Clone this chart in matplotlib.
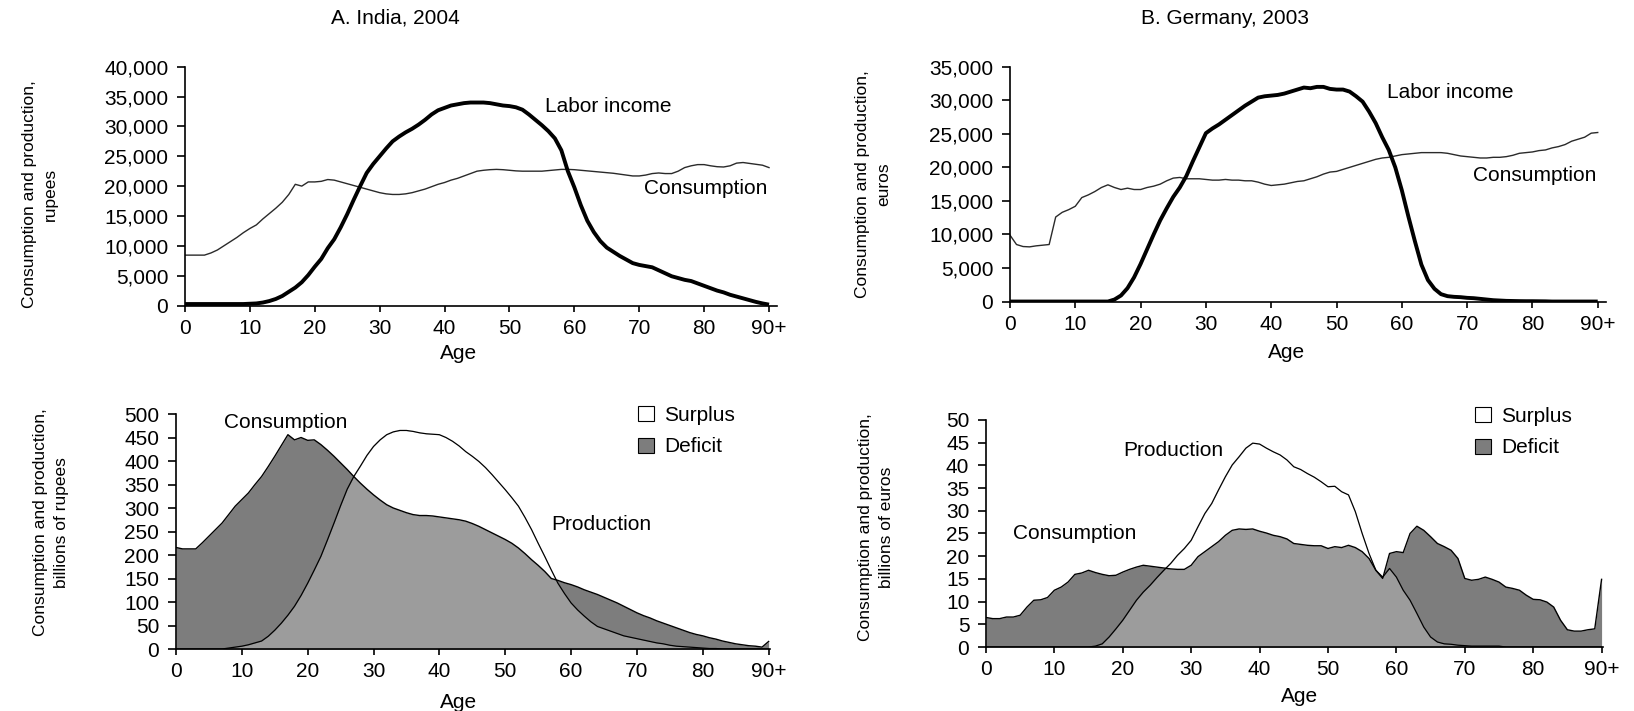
"""
Perfiles de ciclo de vida: consumo e ingreso laboral, India 2004 y Alemania 2003
"""

import numpy as np
import matplotlib
matplotlib.use("Agg")
import matplotlib.pyplot as plt
from matplotlib.patches import Patch
from matplotlib.ticker import FuncFormatter

plt.rcParams['font.family'] = ['Liberation Sans', 'DejaVu Sans']

# datos
edades = list(range(91))
etiquetas_x = ['0', '10', '20', '30', '40', '50', '60', '70', '80', '90+']

# A. India, per capita (rupias)
consumo_india = [
    8440, 8440, 8440, 8440, 8800, 9300, 10000, 10700, 11400, 12200,
    12900, 13500, 14500, 15400, 16300, 17300, 18600, 20300, 20000, 20700,
    20700, 20800, 21100, 21000, 20700, 20400, 20100, 19800, 19500, 19200,
    18900, 18700, 18600, 18600, 18700, 18900, 19200, 19500, 19900, 20300,
    20600, 21000, 21300, 21700, 22100, 22500, 22650, 22750, 22800, 22750,
    22650, 22550, 22500, 22500, 22500, 22500, 22600, 22700, 22800, 22800,
    22750, 22650, 22550, 22450, 22350, 22250, 22150, 22000, 21850, 21700,
    21700, 21850, 22100, 22200, 22100, 22100, 22500, 23100, 23400, 23600,
    23600, 23400, 23250, 23200, 23400, 23850, 23950, 23800, 23650, 23500,
    23100]
ingreso_india = [
    250, 250, 250, 250, 250, 250, 250, 250, 250, 250,
    300, 350, 500, 750, 1100, 1600, 2300, 3000, 3900, 5100,
    6500, 7800, 9600, 11100, 13100, 15300, 17700, 20000, 22200, 23700,
    25000, 26300, 27500, 28300, 29000, 29600, 30300, 31100, 32000, 32700,
    33100, 33500, 33700, 33900, 34000, 34000, 34000, 33900, 33700, 33500,
    33400, 33200, 32800, 32000, 31100, 30200, 29200, 28000, 26000, 22500,
    19800, 16800, 14200, 12300, 10800, 9700, 9000, 8300, 7700, 7100,
    6800, 6600, 6400, 5900, 5400, 4900, 4600, 4300, 4100, 3700,
    3300, 2900, 2500, 2200, 1800, 1500, 1200, 900, 600, 350,
    150]

# B. Alemania, per capita (euros)
consumo_alemania = [
    9900, 8500, 8200, 8150, 8300, 8400, 8500, 12600, 13300, 13700,
    14200, 15500, 15900, 16400, 17000, 17400, 17000, 16700, 16900, 16700,
    16700, 17000, 17200, 17500, 18000, 18400, 18500, 18300, 18300, 18300,
    18200, 18100, 18100, 18200, 18100, 18100, 18000, 18000, 17800, 17500,
    17300, 17400, 17500, 17700, 17900, 18000, 18300, 18600, 19000, 19300,
    19400, 19700, 20000, 20300, 20600, 20900, 21200, 21400, 21500, 21700,
    21900, 22000, 22100, 22200, 22200, 22200, 22200, 22100, 21900, 21700,
    21600, 21500, 21400, 21400, 21500, 21500, 21600, 21800, 22100, 22200,
    22300, 22500, 22600, 22900, 23100, 23400, 23900, 24200, 24500, 25100,
    25200]
ingreso_alemania = [
    0, 0, 0, 0, 0, 0, 0, 0, 0, 0,
    0, 0, 0, 0, 0, 0, 300, 900, 2000, 3600,
    5600, 7800, 10000, 12100, 13900, 15600, 17000, 18700, 20900, 23000,
    25100, 25800, 26400, 27100, 27800, 28500, 29200, 29800, 30400, 30600,
    30700, 30800, 31000, 31300, 31600, 31900, 31800, 32000, 32000, 31700,
    31600, 31600, 31300, 30600, 29800, 28300, 26600, 24500, 22600, 20000,
    16600, 12700, 9000, 5500, 3200, 1900, 1100, 800, 700, 650,
    550, 500, 400, 300, 200, 150, 100, 80, 60, 50,
    50, 40, 30, 0, 0, 0, 0, 0, 0, 0,
    0]

# agregados (miles de millones)
consumo_total_india = [
    216, 213, 213, 213, 226, 240, 254, 268, 286, 304,
    318, 332, 350, 367, 388, 410, 433, 456, 445, 450,
    444, 445, 435, 423, 410, 396, 382, 367, 353, 340,
    328, 317, 307, 300, 295, 290, 286, 284, 284, 283,
    281, 279, 277, 275, 272, 267, 261, 254, 247, 240,
    233, 225, 215, 203, 190, 178, 165, 150, 146, 141,
    137, 132, 126, 121, 116, 110, 104, 98, 91, 84,
    77, 71, 66, 60, 55, 50, 45, 40, 35, 31,
    28, 24, 21, 17, 14, 11, 9, 7, 6, 4,
    16]
produccion_total_india = [
    0, 0, 0, 0, 0, 0, 0, 0, 2, 4,
    6, 9, 13, 17, 27, 40, 55, 72, 91, 114,
    140, 168, 197, 232, 268, 305, 340, 367, 389, 412,
    431, 445, 456, 462, 465, 465, 463, 460, 458, 457,
    456, 450, 442, 432, 420, 410, 399, 386, 371, 355,
    339, 322, 304, 280, 254, 225, 197, 168, 140, 118,
    98, 83, 70, 58, 48, 43, 38, 33, 28, 25,
    22, 19, 16, 13, 11, 8, 6, 5, 4, 3,
    2, 1, 1, 0, 0, 0, 0, 0, 0, 0,
    0]
consumo_total_alemania = [
    6.5, 6.25, 6.25, 6.6, 6.6, 7.0, 8.8, 10.3, 10.4, 10.9,
    12.5, 13.2, 14.3, 16.0, 16.3, 16.9, 16.4, 16.0, 15.7, 15.8,
    16.5, 17.1, 17.6, 18.0, 17.8, 17.6, 17.4, 17.2, 17.1, 17.1,
    18.0, 19.9, 21.0, 22.1, 23.2, 24.6, 25.7, 26.0, 25.9, 26.0,
    25.5, 25.1, 24.6, 24.3, 23.8, 22.8, 22.6, 22.4, 22.3, 22.3,
    21.7, 22.1, 21.9, 22.4, 21.9, 21.0, 19.5, 16.9, 15.1, 20.6,
    21.0, 20.8, 25.0, 26.6, 25.7, 24.3, 22.8, 22.1, 21.3, 19.5,
    15.1, 14.7, 14.9, 15.4, 14.9, 14.3, 13.2, 12.9, 12.5, 11.4,
    10.5, 10.4, 9.9, 8.8, 5.9, 3.8, 3.5, 3.5, 3.8, 4.0,
    14.9]
produccion_total_alemania = [
    0, 0, 0, 0, 0, 0, 0, 0, 0, 0,
    0, 0, 0, 0, 0, 0, 0.2, 0.7, 2.2, 4.0,
    5.9, 8.1, 10.3, 12.1, 13.6, 15.3, 16.9, 18.4, 20.2, 21.7,
    23.5, 26.5, 29.4, 31.6, 34.6, 37.5, 40.1, 41.9, 43.8, 44.9,
    44.7, 43.8, 43.0, 42.3, 41.2, 39.7, 39.1, 38.2, 37.4, 36.4,
    35.3, 35.4, 34.2, 33.5, 29.8, 25.0, 20.6, 16.9, 15.4, 17.3,
    15.4, 12.5, 10.3, 7.4, 4.4, 2.2, 1.1, 0.7, 0.6, 0.4,
    0.3, 0.2, 0.2, 0.2, 0.2, 0.2, 0, 0, 0, 0,
    0, 0, 0, 0, 0, 0, 0, 0, 0, 0,
    0]

GRIS_DEFICIT = '#7d7d7d'
GRIS_BASE = '#9c9c9c'
TAM = 15


def estilo(ax, ymax, paso, xmax, con_comas):
    """
    Ejes al estilo del original: solo izquierda y abajo
    """
    for lado in ['top', 'right']:
        ax.spines[lado].set_visible(False)
    for lado in ['left', 'bottom']:
        ax.spines[lado].set_linewidth(1.2)
    ax.set_xlim(0, xmax)
    ax.set_ylim(0, ymax)
    ax.set_xticks(range(0, 91, 10))
    ax.set_xticklabels(etiquetas_x)
    ax.set_yticks(np.arange(0, ymax + paso / 2, paso))
    if con_comas:
        ax.yaxis.set_major_formatter(FuncFormatter(lambda v, p: f"{int(v):,}"))
    else:
        ax.yaxis.set_major_formatter(FuncFormatter(lambda v, p: f"{int(v)}"))
    ax.tick_params(axis='y', length=6, width=1.2, labelsize=TAM, pad=6)
    ax.tick_params(axis='x', length=4.5, width=1.2, labelsize=TAM, pad=5)


def etiquetas(ax, texto_y, pos_y, pos_x):
    ax.set_ylabel(texto_y, fontsize=12.5, linespacing=1.5, va='center', ha='center')
    ax.yaxis.set_label_coords(*pos_y)
    ax.set_xlabel('Age', fontsize=TAM, va='center')
    ax.xaxis.set_label_coords(*pos_x)


def panel_per_capita(ax, consumo, ingreso):
    ax.plot(edades, consumo, color='#2a2a2a', lw=1.0)
    ax.plot(edades, ingreso, color='black', lw=2.8, solid_capstyle='butt')


def panel_agregado(ax, consumo, produccion):
    c = np.array(consumo, dtype=float)
    p = np.array(produccion, dtype=float)
    ax.fill_between(edades, 0, c, color=GRIS_DEFICIT, lw=0)
    ax.fill_between(edades, 0, p, color=GRIS_BASE, lw=0)
    ax.fill_between(edades, c, p, where=p >= c, interpolate=True, color='white', lw=0)
    ax.plot(edades, c, color='black', lw=1.0)
    ax.plot(edades, p, color='black', lw=0.9)
    manejadores = [Patch(facecolor='white', edgecolor='black', lw=0.8),
                   Patch(facecolor=GRIS_DEFICIT, edgecolor='black', lw=0.8)]
    return manejadores


fig = plt.figure(figsize=(16.34, 7.11), dpi=100)

# A. India, per capita
ax1 = fig.add_axes([0.1132, 0.5703, 0.3622, 0.3359])
panel_per_capita(ax1, consumo_india, ingreso_india)
estilo(ax1, 40000, 5000, 91.2, True)
etiquetas(ax1, 'Consumption and production,\nrupees', (-0.245, 0.467), (0.463, -0.199))
ax1.text(55.5, 33250, 'Labor income', fontsize=TAM, va='center')
ax1.text(70.7, 19680, 'Consumption', fontsize=TAM, va='center')

# B. Alemania, per capita
ax2 = fig.add_axes([0.6181, 0.5759, 0.3645, 0.3302])
panel_per_capita(ax2, consumo_alemania, ingreso_alemania)
estilo(ax2, 35000, 5000, 91.2, True)
etiquetas(ax2, 'Consumption and production,\neuros', (-0.230, 0.50), (0.465, -0.215))
ax2.text(57.8, 31220, 'Labor income', fontsize=TAM, va='center')
ax2.text(70.9, 18820, 'Consumption', fontsize=TAM, va='center')

# India, agregados
ax3 = fig.add_axes([0.1077, 0.0872, 0.3635, 0.3305])
h3 = panel_agregado(ax3, consumo_total_india, produccion_total_india)
estilo(ax3, 500, 50, 90.2, False)
etiquetas(ax3, 'Consumption and production,\nbillions of rupees', (-0.210, 0.54), (0.476, -0.226))
ax3.text(7.3, 483, 'Consumption', fontsize=TAM, va='center')
ax3.text(57.0, 264, 'Production', fontsize=TAM, va='center')
ax3.legend(h3, ['Surplus', 'Deficit'], loc='upper left', bbox_to_anchor=(0.3905, 0.429),
           bbox_transform=fig.transFigure, frameon=False, fontsize=TAM, borderpad=0,
           borderaxespad=0, handlelength=0.75, handleheight=0.75, handletextpad=0.5,
           labelspacing=0.6)

# Alemania, agregados
ax4 = fig.add_axes([0.6034, 0.0900, 0.3776, 0.3193])
h4 = panel_agregado(ax4, consumo_total_alemania, produccion_total_alemania)
estilo(ax4, 50, 5, 90.2, False)
etiquetas(ax4, 'Consumption and production,\nbillions of euros', (-0.178, 0.529), (0.509, -0.22))
ax4.text(3.9, 25.1, 'Consumption', fontsize=TAM, va='center')
ax4.text(20.0, 43.2, 'Production', fontsize=TAM, va='center')
ax4.legend(h4, ['Surplus', 'Deficit'], loc='upper left', bbox_to_anchor=(0.9027, 0.4276),
           bbox_transform=fig.transFigure, frameon=False, fontsize=TAM, borderpad=0,
           borderaxespad=0, handlelength=0.75, handleheight=0.75, handletextpad=0.5,
           labelspacing=0.6)

# titulos
fig.text(395 / 1634, 1 - 18 / 711, 'A. India, 2004', ha='center', va='center', fontsize=TAM)
fig.text(1225 / 1634, 1 - 18 / 711, 'B. Germany, 2003', ha='center', va='center', fontsize=TAM)

fig.savefig('out.png', dpi=100)
